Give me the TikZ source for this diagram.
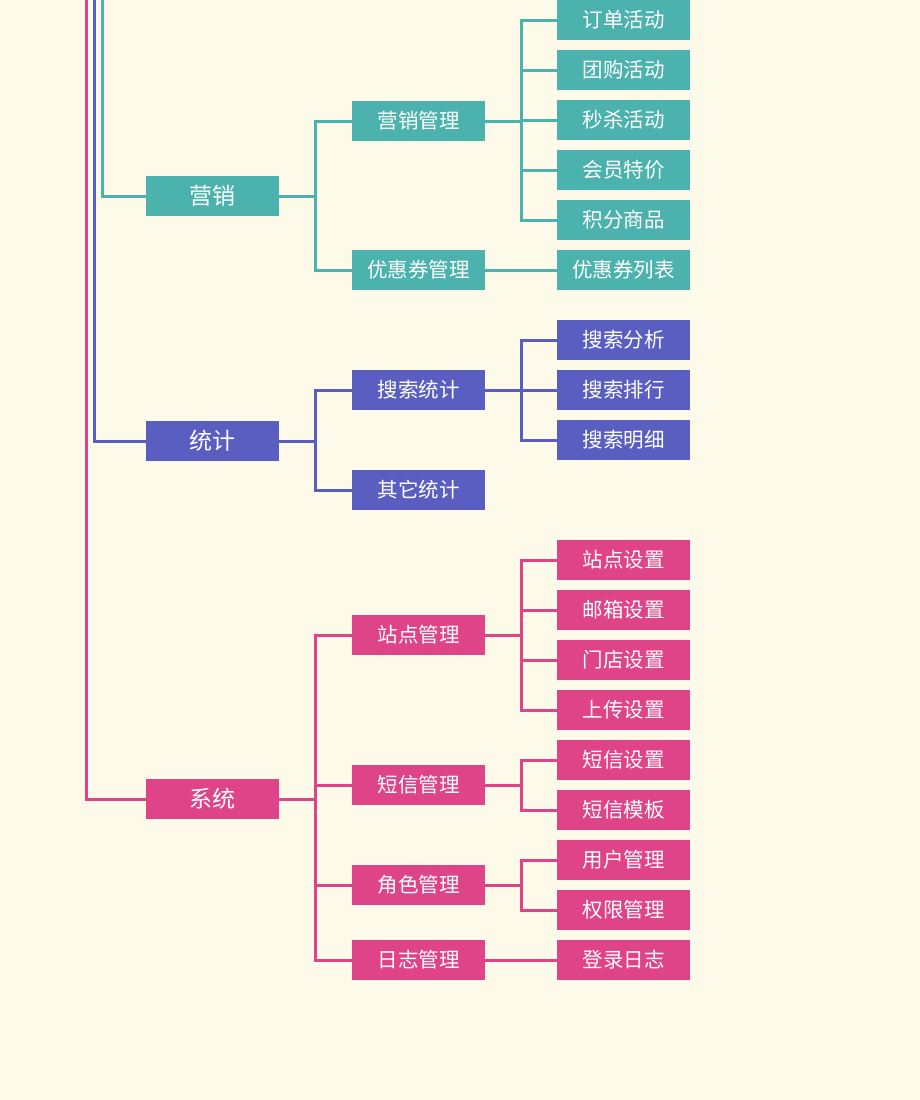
\documentclass[tikz,border=0pt]{standalone}
\usepackage{fontspec}
\newfontfamily\cjk{Noto Sans CJK SC}
\definecolor{bgc}{HTML}{FDFAEA}
\definecolor{teal1}{HTML}{4BB2AD}
\definecolor{blue1}{HTML}{5A5EC1}
\definecolor{pink1}{HTML}{DF4489}
\tikzset{
  box/.style={rectangle, minimum width=133pt, minimum height=40pt, inner sep=0pt, text=white, font=\cjk\fontsize{20.5}{20.5}\selectfont},
  topbox/.style={box, font=\cjk\fontsize{23}{23}\selectfont},
  conn/.style={line width=3pt},
}
\begin{document}
\begin{tikzpicture}[x=1pt,y=-1pt]
\fill[bgc] (0,0) rectangle (920,1100);
\useasboundingbox (0,0) rectangle (920,1100);
% ---------- marketing ----------
\begin{scope}[every node/.append style={fill=teal1}, every path/.append style={draw=teal1}]
\node[topbox] (yx) at (212.5,196) {营销};
\node[box] (yxgl) at (418.5,121) {营销管理};
\node[box] (yhq) at (418.5,270) {优惠券管理};
\node[box] (ddhd) at (623.5,20) {订单活动};
\node[box] (tghd) at (623.5,70) {团购活动};
\node[box] (mshd) at (623.5,120) {秒杀活动};
\node[box] (hytj) at (623.5,170) {会员特价};
\node[box] (jfsp) at (623.5,220) {积分商品};
\node[box] (yhqlb) at (623.5,270) {优惠券列表};
\coordinate (tyx) at (102,-2);
\draw[conn] (tyx) |- (yx.west);
\foreach \c in {yxgl,yhq} \draw[conn] (yx.east) -- ++(36,0) |- (\c.west);
\foreach \c in {ddhd,tghd,mshd,hytj,jfsp} \draw[conn] (yxgl.east) -- ++(36,0) |- (\c.west);
\draw[conn] (yhq.east) -- (yhqlb.west);
\end{scope}
% ---------- statistics ----------
\begin{scope}[every node/.append style={fill=blue1}, every path/.append style={draw=blue1}]
\node[topbox] (tj) at (212.5,441) {统计};
\node[box] (sstj) at (418.5,390) {搜索统计};
\node[box] (qttj) at (418.5,490) {其它统计};
\node[box] (ssfx) at (623.5,340) {搜索分析};
\node[box] (ssph) at (623.5,390) {搜索排行};
\node[box] (ssmx) at (623.5,440) {搜索明细};
\coordinate (ttj) at (94,-2);
\draw[conn] (ttj) |- (tj.west);
\foreach \c in {sstj,qttj} \draw[conn] (tj.east) -- ++(36,0) |- (\c.west);
\foreach \c in {ssfx,ssph,ssmx} \draw[conn] (sstj.east) -- ++(36,0) |- (\c.west);
\end{scope}
% ---------- system ----------
\begin{scope}[every node/.append style={fill=pink1}, every path/.append style={draw=pink1}]
\node[topbox] (xt) at (212.5,799) {系统};
\node[box] (zdgl) at (418.5,635) {站点管理};
\node[box] (dxgl) at (418.5,785) {短信管理};
\node[box] (jsgl) at (418.5,885) {角色管理};
\node[box] (rzgl) at (418.5,960) {日志管理};
\node[box] (zdsz) at (623.5,560) {站点设置};
\node[box] (yxsz) at (623.5,610) {邮箱设置};
\node[box] (mdsz) at (623.5,660) {门店设置};
\node[box] (scsz) at (623.5,710) {上传设置};
\node[box] (dxsz) at (623.5,760) {短信设置};
\node[box] (dxmb) at (623.5,810) {短信模板};
\node[box] (yhgl) at (623.5,860) {用户管理};
\node[box] (qxgl) at (623.5,910) {权限管理};
\node[box] (dlrz) at (623.5,960) {登录日志};
\coordinate (txt) at (86,-2);
\draw[conn] (txt) |- (xt.west);
\foreach \c in {zdgl,dxgl,jsgl,rzgl} \draw[conn] (xt.east) -- ++(36,0) |- (\c.west);
\foreach \c in {zdsz,yxsz,mdsz,scsz} \draw[conn] (zdgl.east) -- ++(36,0) |- (\c.west);
\foreach \c in {dxsz,dxmb} \draw[conn] (dxgl.east) -- ++(36,0) |- (\c.west);
\foreach \c in {yhgl,qxgl} \draw[conn] (jsgl.east) -- ++(36,0) |- (\c.west);
\draw[conn] (rzgl.east) -- (dlrz.west);
\end{scope}
\end{tikzpicture}
\end{document}
